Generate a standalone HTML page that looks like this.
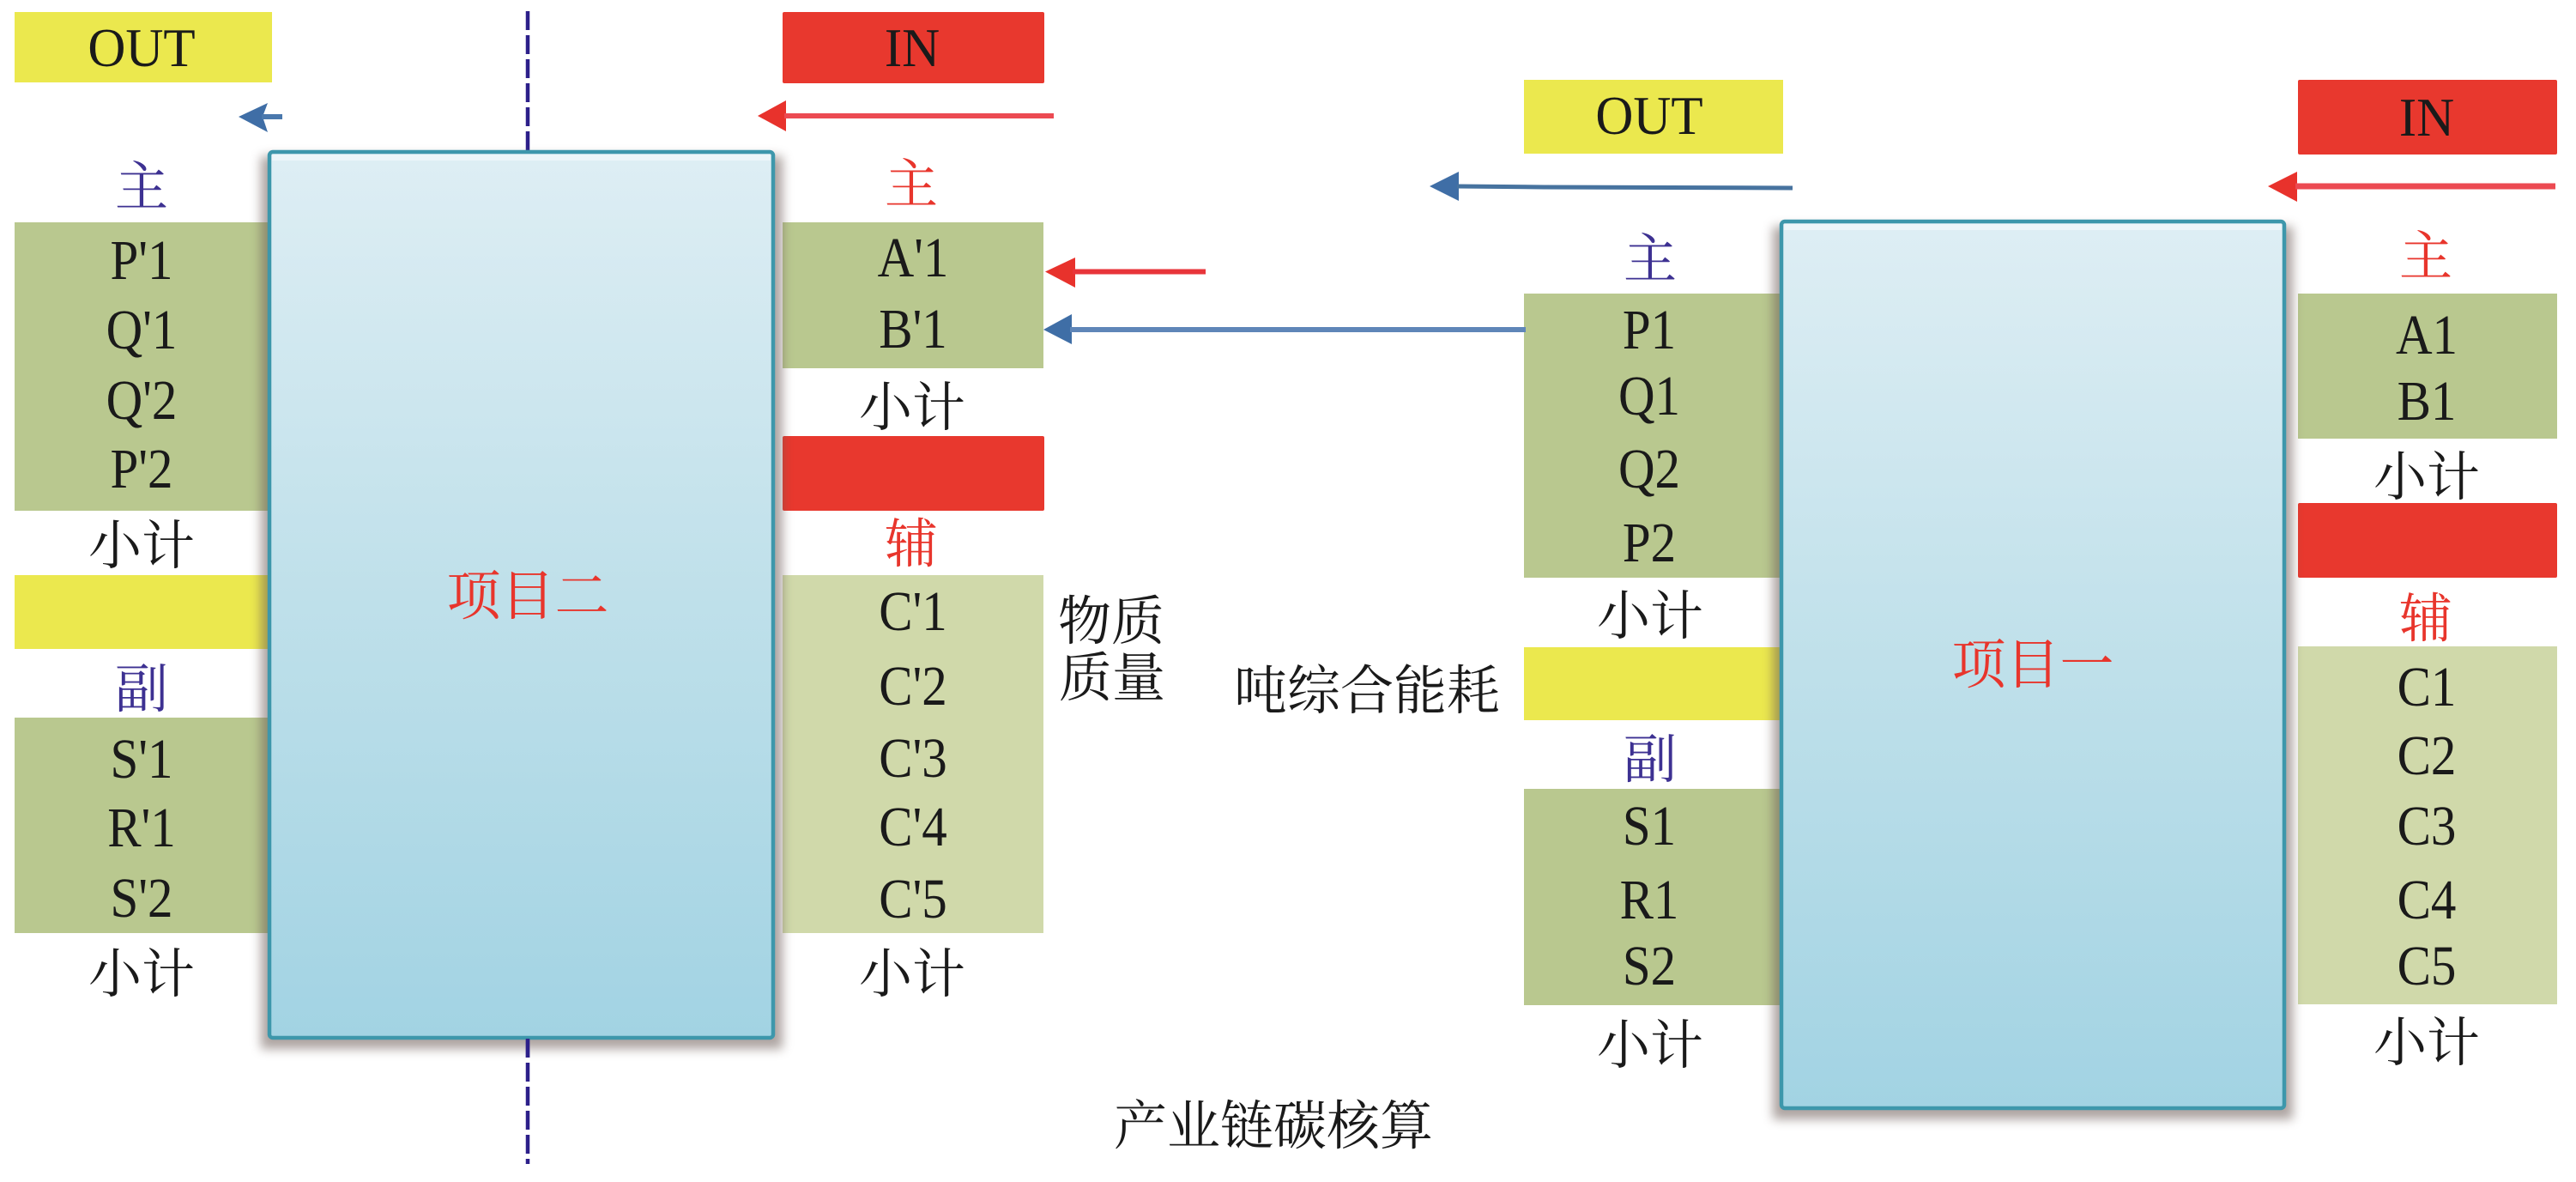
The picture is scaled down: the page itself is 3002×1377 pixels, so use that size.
<!DOCTYPE html>
<html><head><meta charset="utf-8"><style>
html,body{margin:0;padding:0;background:#fff}
svg{display:block}
text{text-anchor:middle}
.e{font-family:"Liberation Serif",serif;font-size:59px;fill:#1a1a1a}
.o{font-size:61px}
.c{font-family:"Liberation Serif","Noto Serif CJK SC",serif;font-size:62px;fill:#1a1a1a}
.r{fill:#e8352c}.p{fill:#3d3192}
.n{font-size:62px}
</style></head><body>
<svg width="3002" height="1377" viewBox="0 0 3002 1377" xmlns="http://www.w3.org/2000/svg">
<defs>
<linearGradient id="g" x1="0" y1="0" x2="0" y2="1"><stop offset="0" stop-color="#deeef4"/><stop offset="0.5" stop-color="#bfe0ea"/><stop offset="1" stop-color="#a2d3e3"/></linearGradient>
<filter id="b" x="-10%" y="-10%" width="120%" height="120%"><feGaussianBlur stdDeviation="6"/></filter>
</defs>
<rect width="3002" height="1377" fill="#fff"/>

<!-- left project -->
<rect x="17" y="14" width="300" height="82" fill="#ebe84e"/>
<rect x="912" y="14" width="305" height="83" rx="2" fill="#e8382e"/>
<rect x="17" y="259" width="300" height="336" fill="#b9c88f"/>
<rect x="17" y="670" width="300" height="86" fill="#ebe84e"/>
<rect x="17" y="836" width="300" height="251" fill="#b9c88f"/>
<rect x="912" y="259" width="304" height="170" fill="#b9c88f"/>
<rect x="912" y="508" width="305" height="87" rx="2" fill="#e8382e"/>
<rect x="912" y="670" width="304" height="417" fill="#d0d9aa"/>
<line x1="615" y1="13" x2="615" y2="176" stroke="#2c1f8a" stroke-width="4.5" stroke-dasharray="22 6"/>
<line x1="615" y1="1210" x2="615" y2="1356" stroke="#2c1f8a" stroke-width="4.5" stroke-dasharray="22 6"/>
<rect x="304" y="182" width="608" height="1040" fill="#6b5a55" opacity=".55" filter="url(#b)"/>
<rect x="314" y="177" width="587" height="1032" rx="4" fill="url(#g)" stroke="#3d97ab" stroke-width="4.5"/>
<rect x="317" y="180" width="581" height="7" fill="#f0f8fa" opacity=".8"/>
<line x1="615" y1="1210" x2="615" y2="1232" stroke="#2c1f8a" stroke-width="4.5"/>

<!-- right project -->
<rect x="1776" y="93" width="302" height="86" fill="#ebe84e"/>
<rect x="2678" y="93" width="302" height="87" rx="2" fill="#e8382e"/>
<rect x="1776" y="342" width="300" height="331" fill="#b9c88f"/>
<rect x="1776" y="754" width="300" height="85" fill="#ebe84e"/>
<rect x="1776" y="919" width="300" height="252" fill="#b9c88f"/>
<rect x="2678" y="342" width="302" height="169" fill="#b9c88f"/>
<rect x="2678" y="586" width="302" height="87" rx="2" fill="#e8382e"/>
<rect x="2678" y="753" width="302" height="417" fill="#d0d9aa"/>
<rect x="2066" y="264" width="606" height="1040" fill="#6b5a55" opacity=".55" filter="url(#b)"/>
<rect x="2076" y="258" width="586" height="1033" rx="4" fill="url(#g)" stroke="#3d97ab" stroke-width="4.5"/>
<rect x="2079" y="261" width="580" height="7" fill="#f0f8fa" opacity=".8"/>

<!-- arrows -->
<polygon points="278,136 312,120 306,136 312,154" fill="#3f6ea6"/><line x1="305" y1="136" x2="329" y2="136" stroke="#4a78ad" stroke-width="6"/>
<polygon points="883,135 916,117 916,153" fill="#e8322c"/><line x1="914" y1="135" x2="1228" y2="135" stroke="#ec4a52" stroke-width="6"/>
<polygon points="1218,316.500 1253,300 1253,335" fill="#e8322c"/><line x1="1250" y1="316.500" x2="1405" y2="316.500" stroke="#e8353a" stroke-width="6"/>
<polygon points="1216,384 1249,366 1249,401" fill="#3f6ea6"/><line x1="1247" y1="384" x2="1778" y2="384" stroke="#5f86b8" stroke-width="6"/>
<polygon points="1666,217 1700,200 1700,234" fill="#3f6ea6"/><polyline points="1698,217 1800,218 2089,219" fill="none" stroke="#47739f" stroke-width="5"/>
<polygon points="2643,217 2677,200 2677,235" fill="#e8322c"/><line x1="2675" y1="217" x2="2978" y2="217" stroke="#ec4a52" stroke-width="7"/>

<!-- left project text -->
<text class="e o" transform="translate(165 77) scale(1 1.05)">OUT</text>
<text class="e o" transform="translate(1063 77) scale(1 1.05)">IN</text>
<text class="c p" x="165" y="239">主</text>
<text class="e" transform="translate(165 325) scale(1 1.12)">P'1</text>
<text class="e" transform="translate(165 406) scale(1 1.12)">Q'1</text>
<text class="e" transform="translate(165 488) scale(1 1.12)">Q'2</text>
<text class="e" transform="translate(165 568) scale(1 1.12)">P'2</text>
<text class="c" x="165" y="657">小计</text>
<text class="c p" x="165" y="824">副</text>
<text class="e" transform="translate(165 906) scale(1 1.12)">S'1</text>
<text class="e" transform="translate(165 986) scale(1 1.12)">R'1</text>
<text class="e" transform="translate(165 1068) scale(1 1.12)">S'2</text>
<text class="c" x="165" y="1156">小计</text>
<text class="c r n" x="615" y="716" style="font-size:63px">项目二</text>
<text class="c r" x="1062" y="236">主</text>
<text class="e" transform="translate(1064 322) scale(1 1.12)">A'1</text>
<text class="e" transform="translate(1064 405) scale(1 1.12)">B'1</text>
<text class="c" x="1063" y="496">小计</text>
<text class="c r" x="1062" y="655">辅</text>
<text class="e" transform="translate(1064 734) scale(1 1.12)">C'1</text>
<text class="e" transform="translate(1064 821) scale(1 1.12)">C'2</text>
<text class="e" transform="translate(1064 905) scale(1 1.12)">C'3</text>
<text class="e" transform="translate(1064 985) scale(1 1.12)">C'4</text>
<text class="e" transform="translate(1064 1069) scale(1 1.12)">C'5</text>
<text class="c" x="1063" y="1156">小计</text>
<text class="c" x="1295" y="745">物质</text>
<text class="c" x="1296" y="811">质量</text>
<text class="c n" x="1593" y="826">吨综合能耗</text>
<text class="c n" x="1484" y="1333">产业链碳核算</text>

<!-- right project text -->
<text class="e o" transform="translate(1922 156) scale(1 1.05)">OUT</text>
<text class="e o" transform="translate(2828 158) scale(1 1.05)">IN</text>
<text class="c p" x="1923" y="323">主</text>
<text class="e" transform="translate(1922 406) scale(1 1.12)">P1</text>
<text class="e" transform="translate(1922 483) scale(1 1.12)">Q1</text>
<text class="e" transform="translate(1922 568) scale(1 1.12)">Q2</text>
<text class="e" transform="translate(1922 654) scale(1 1.12)">P2</text>
<text class="c" x="1923" y="739">小计</text>
<text class="c p" x="1923" y="906">副</text>
<text class="e" transform="translate(1922 984) scale(1 1.12)">S1</text>
<text class="e" transform="translate(1922 1070) scale(1 1.12)">R1</text>
<text class="e" transform="translate(1922 1147) scale(1 1.12)">S2</text>
<text class="c" x="1923" y="1239">小计</text>
<text class="c r n" x="2369" y="796" style="font-size:63px">项目一</text>
<text class="c r" x="2827" y="320">主</text>
<text class="e" transform="translate(2828 412) scale(1 1.12)">A1</text>
<text class="e" transform="translate(2828 489) scale(1 1.12)">B1</text>
<text class="c" x="2828" y="577">小计</text>
<text class="c r" x="2827" y="742">辅</text>
<text class="e" transform="translate(2828 822) scale(1 1.12)">C1</text>
<text class="e" transform="translate(2828 902) scale(1 1.12)">C2</text>
<text class="e" transform="translate(2828 984) scale(1 1.12)">C3</text>
<text class="e" transform="translate(2828 1070) scale(1 1.12)">C4</text>
<text class="e" transform="translate(2828 1147) scale(1 1.12)">C5</text>
<text class="c" x="2828" y="1236">小计</text>
</svg>
</body></html>
